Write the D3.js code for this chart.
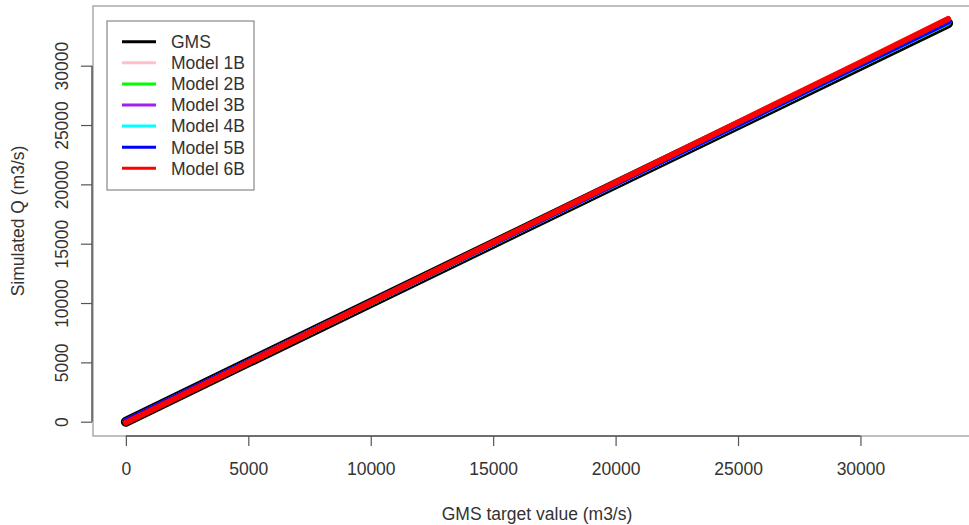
<!DOCTYPE html>
<html lang="en">
<head>
<meta charset="UTF-8">
<title>Simulated Q vs GMS target</title>
<script src="https://d3js.org/d3.v7.min.js"></script>
<style>
body { margin: 0; background: #fff; }
text { font-family: "Liberation Sans", Arial, sans-serif; fill: #333; }
</style>
</head>
<body>
<script>
// data
var targetQ  = [0, 5000, 10000, 15000, 20000, 25000, 30000, 33580];
var gms      = [0, 5000, 10000, 15000, 20000, 25000, 30000, 33580];
var model1B  = [20, 5010, 10020, 15030, 20040, 25050, 30060, 33650];
var model2B  = [10, 5010, 10020, 15030, 20040, 25040, 30050, 33640];
var model3B  = [20, 5020, 10030, 15040, 20050, 25060, 30070, 33670];
var model4B  = [10, 5020, 10030, 15040, 20050, 25060, 30080, 33680];
var model5B  = [40, 5030, 10040, 15050, 20060, 25070, 30090, 33690];
var model6B  = [-80, 4980, 10040, 15100, 20160, 25220, 30280, 33950];
var seriesNames = ["GMS", "Model 1B", "Model 2B", "Model 3B", "Model 4B", "Model 5B", "Model 6B"];
var seriesColors = ["#000000", "#FFC0CB", "#00FF00", "#A020F0", "#00FFFF", "#0000FF", "#FF0000"];
var xTicks = [0, 5000, 10000, 15000, 20000, 25000, 30000];
var yTicks = [0, 5000, 10000, 15000, 20000, 25000, 30000];

var seriesValues = [gms, model1B, model2B, model3B, model4B, model5B, model6B];

var W = 969, H = 525;
var pL = 93, pR = 981, pT = 6, pB = 436;
var fs = 17.5;

var svg = d3.select("body").append("svg")
  .attr("width", W).attr("height", H);

svg.append("rect").attr("width", W).attr("height", H).attr("fill", "#fff");

var x = d3.scaleLinear().domain([-1343, 34923]).range([pL, pR]);
var y = d3.scaleLinear().domain([-1205, 35030]).range([pB, pT]);

// box
svg.append("rect")
  .attr("x", pL).attr("y", pT)
  .attr("width", pR - pL).attr("height", pB - pT)
  .attr("fill", "none").attr("stroke", "#aaa").attr("stroke-width", 1.5);

// lines
var line = d3.line()
  .x(function(d, i) { return x(targetQ[i]); })
  .y(function(d) { return y(d); });

svg.selectAll("path.series")
  .data(seriesValues)
  .enter()
  .append("path")
  .attr("class", "series")
  .attr("d", line)
  .attr("fill", "none")
  .attr("stroke", function(d, i) { return seriesColors[i]; })
  .attr("stroke-width", function(d, i) { return i == 0 ? 10 : 6; })
  .attr("stroke-linecap", "round")
  .attr("stroke-linejoin", "round");

// axes
var xAxis = d3.axisBottom(x).tickValues(xTicks).tickSize(10).tickPadding(17).tickFormat(d3.format("d"));
var gx = svg.append("g").attr("transform", "translate(0," + pB + ")").call(xAxis);
gx.select(".domain").attr("d", "M" + x(0) + ",0H" + x(30000)).attr("stroke", "#555").attr("stroke-width", 1.5);
gx.selectAll(".tick line").attr("stroke", "#555").attr("stroke-width", 1.2);
gx.selectAll(".tick text").attr("font-size", fs).style("fill", "#333");

var yAxis = d3.axisLeft(y).tickValues(yTicks).tickSize(11).tickFormat(d3.format("d"));
var gy = svg.append("g").attr("transform", "translate(" + (pL - 1) + ",0)").call(yAxis);
gy.select(".domain").attr("d", "M0," + y(0) + "V" + y(30000)).attr("stroke", "#555").attr("stroke-width", 1.5);
gy.selectAll(".tick line").attr("stroke", "#555").attr("stroke-width", 1.2);
gy.selectAll(".tick text")
  .attr("font-size", fs).style("fill", "#333")
  .attr("x", null).attr("dy", null)
  .attr("text-anchor", "middle")
  .attr("transform", "translate(-24,0) rotate(-90)");

// axis titles
svg.append("text")
  .attr("x", (pL + pR) / 2).attr("y", 520)
  .attr("text-anchor", "middle").attr("font-size", fs)
  .text("GMS target value (m3/s)");

svg.append("text")
  .attr("transform", "translate(24," + ((pT + pB) / 2) + ") rotate(-90)")
  .attr("text-anchor", "middle").attr("font-size", fs)
  .text("Simulated Q (m3/s)");

// legend
var lg = svg.append("g").attr("transform", "translate(107,21)");
lg.append("rect").attr("width", 147).attr("height", 169)
  .attr("fill", "#fff").attr("stroke", "#888").attr("stroke-width", 1.2);

var items = lg.selectAll("g.item").data(seriesNames).enter()
  .append("g").attr("class", "item")
  .attr("transform", function(d, i) { return "translate(0," + (20.7 + i * 21.1) + ")"; });
items.append("line")
  .attr("x1", 15).attr("x2", 49)
  .attr("stroke", function(d, i) { return seriesColors[i]; })
  .attr("stroke-width", 3);
items.append("text")
  .attr("x", 64).attr("dy", "0.36em").attr("font-size", fs)
  .text(function(d) { return d; });
</script>
</body>
</html>
